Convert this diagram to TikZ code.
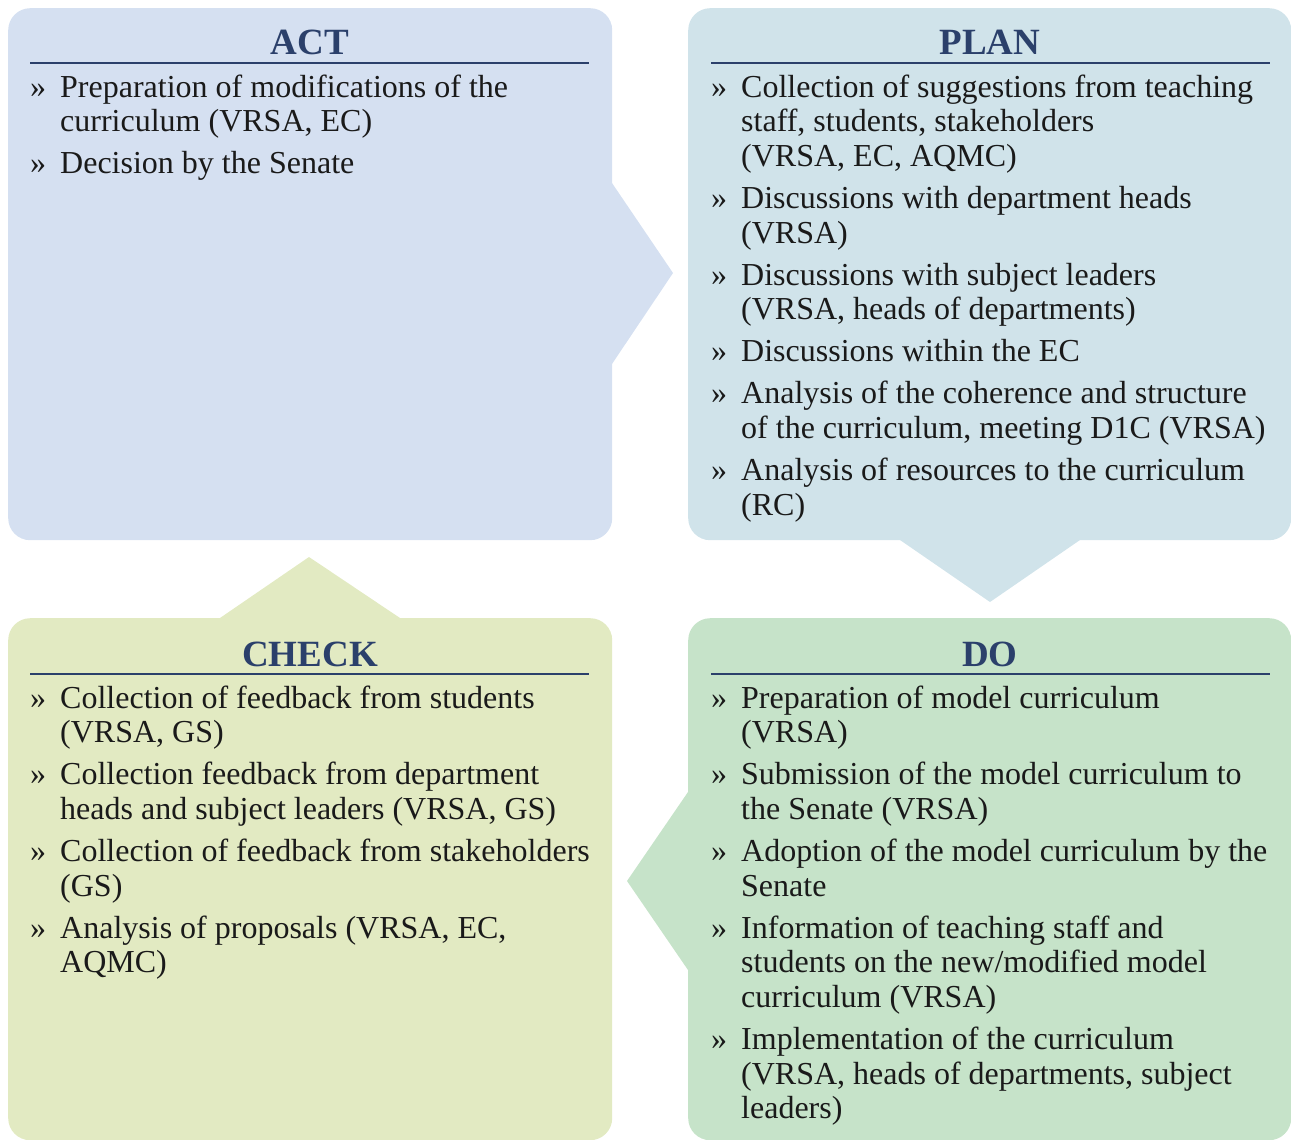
\documentclass[tikz,border=0pt]{standalone}
\usepackage{fontspec}
\setmainfont{Liberation Serif}
\definecolor{actc}{HTML}{D5E0F1}
\definecolor{planc}{HTML}{D0E3EA}
\definecolor{checkc}{HTML}{E2EAC2}
\definecolor{doc}{HTML}{C6E3C9}
\definecolor{navy}{HTML}{2B406B}
\definecolor{bodyc}{HTML}{1A1A1A}
\tikzset{
  panel/.style={rectangle, rounded corners=22pt, draw=none, anchor=north west, inner sep=0pt},
  ttl/.style={anchor=base, inner sep=0pt, text=navy, font=\fontsize{37}{40}\selectfont\bfseries},
  rulel/.style={draw=navy, line width=2pt},
  bul/.style={anchor=base west, inner sep=0pt, text=bodyc, font=\fontsize{32}{35}\selectfont},
  txt/.style={anchor=base west, inner sep=0pt, text=bodyc, font=\fontsize{32}{35}\selectfont},
}
\begin{document}
\begin{tikzpicture}[x=1pt,y=-1pt]
\useasboundingbox (0,0) rectangle (1291,1140);
% panels
\node[panel, fill=actc, minimum width=604pt, minimum height=532pt] (act) at (8,8) {};
\node[panel, fill=planc, minimum width=603pt, minimum height=532pt] (plan) at (688,8) {};
\node[panel, fill=checkc, minimum width=604pt, minimum height=522pt] (check) at (8,618) {};
\node[panel, fill=doc, minimum width=603pt, minimum height=522pt] (do) at (688,618) {};
% arrow heads
\fill[actc] (600,183) -- (612,183) -- (673,273) -- (612,364) -- (600,364) -- cycle;
\fill[planc] (900,530) -- (900,540) -- (990,602) -- (1080,540) -- (1080,530) -- cycle;
\fill[checkc] (220,630) -- (220,618) -- (309,557) -- (400,618) -- (400,630) -- cycle;
\fill[doc] (700,792) -- (688,792) -- (627,881) -- (688,970) -- (700,970) -- cycle;
% titles and rules
\node[ttl] (actt) at (310,55) {ACT};
\node[ttl] (plant) at (990,55) {PLAN};
\node[ttl] (checkt) at (310,666) {CHECK};
\node[ttl] (dot) at (990,666) {DO};
\coordinate (ar1) at (30,63); \coordinate (ar2) at (589,63);
\coordinate (pr1) at (711,63); \coordinate (pr2) at (1270,63);
\coordinate (cr1) at (30,674); \coordinate (cr2) at (589,674);
\coordinate (dr1) at (711,674); \coordinate (dr2) at (1270,674);
\draw[rulel] (ar1) -- (ar2);
\draw[rulel] (pr1) -- (pr2);
\draw[rulel] (cr1) -- (cr2);
\draw[rulel] (dr1) -- (dr2);
% ACT
\node[bul] (ab1) at (30,97) {»};
\node[txt] (a11) at (60,97) {Preparation of modifications of the};
\node[txt] (a12) at (60,131.7) {curriculum (VRSA, EC)};
\node[bul] (ab2) at (30,173.7) {»};
\node[txt] (a21) at (60,173.7) {Decision by the Senate};
% PLAN
\node[bul] (pb1) at (711,97) {»};
\node[txt] (p11) at (741,97) {Collection of suggestions from teaching};
\node[txt] (p12) at (741,131.7) {staff, students, stakeholders};
\node[txt] (p13) at (741,166.4) {(VRSA, EC, AQMC)};
\node[bul] (pb2) at (711,208.4) {»};
\node[txt] (p21) at (741,208.4) {Discussions with department heads};
\node[txt] (p22) at (741,243.1) {(VRSA)};
\node[bul] (pb3) at (711,285.1) {»};
\node[txt] (p31) at (741,285.1) {Discussions with subject leaders};
\node[txt] (p32) at (741,319.8) {(VRSA, heads of departments)};
\node[bul] (pb4) at (711,361.8) {»};
\node[txt] (p41) at (741,361.8) {Discussions within the EC};
\node[bul] (pb5) at (711,403.8) {»};
\node[txt] (p51) at (741,403.8) {Analysis of the coherence and structure};
\node[txt] (p52) at (741,438.5) {of the curriculum, meeting D1C (VRSA)};
\node[bul] (pb6) at (711,480.5) {»};
\node[txt] (p61) at (741,480.5) {Analysis of resources to the curriculum};
\node[txt] (p62) at (741,515.2) {(RC)};
% CHECK
\node[bul] (cb1) at (30,708) {»};
\node[txt] (c11) at (60,708) {Collection of feedback from students};
\node[txt] (c12) at (60,742.7) {(VRSA, GS)};
\node[bul] (cb2) at (30,784.7) {»};
\node[txt] (c21) at (60,784.7) {Collection feedback from department};
\node[txt] (c22) at (60,819.4) {heads and subject leaders (VRSA, GS)};
\node[bul] (cb3) at (30,861.4) {»};
\node[txt] (c31) at (60,861.4) {Collection of feedback from stakeholders};
\node[txt] (c32) at (60,896.1) {(GS)};
\node[bul] (cb4) at (30,938.1) {»};
\node[txt] (c41) at (60,938.1) {Analysis of proposals (VRSA, EC,};
\node[txt] (c42) at (60,972.8) {AQMC)};
% DO
\node[bul] (db1) at (711,708) {»};
\node[txt] (d11) at (741,708) {Preparation of model curriculum};
\node[txt] (d12) at (741,742.7) {(VRSA)};
\node[bul] (db2) at (711,784.7) {»};
\node[txt] (d21) at (741,784.7) {Submission of the model curriculum to};
\node[txt] (d22) at (741,819.4) {the Senate (VRSA)};
\node[bul] (db3) at (711,861.4) {»};
\node[txt] (d31) at (741,861.4) {Adoption of the model curriculum by the};
\node[txt] (d32) at (741,896.1) {Senate};
\node[bul] (db4) at (711,938.1) {»};
\node[txt] (d41) at (741,938.1) {Information of teaching staff and};
\node[txt] (d42) at (741,972.8) {students on the new/modified model};
\node[txt] (d43) at (741,1007.5) {curriculum (VRSA)};
\node[bul] (db5) at (711,1049.5) {»};
\node[txt] (d51) at (741,1049.5) {Implementation of the curriculum};
\node[txt] (d52) at (741,1084.2) {(VRSA, heads of departments, subject};
\node[txt] (d53) at (741,1118.9) {leaders)};
\end{tikzpicture}
\end{document}
